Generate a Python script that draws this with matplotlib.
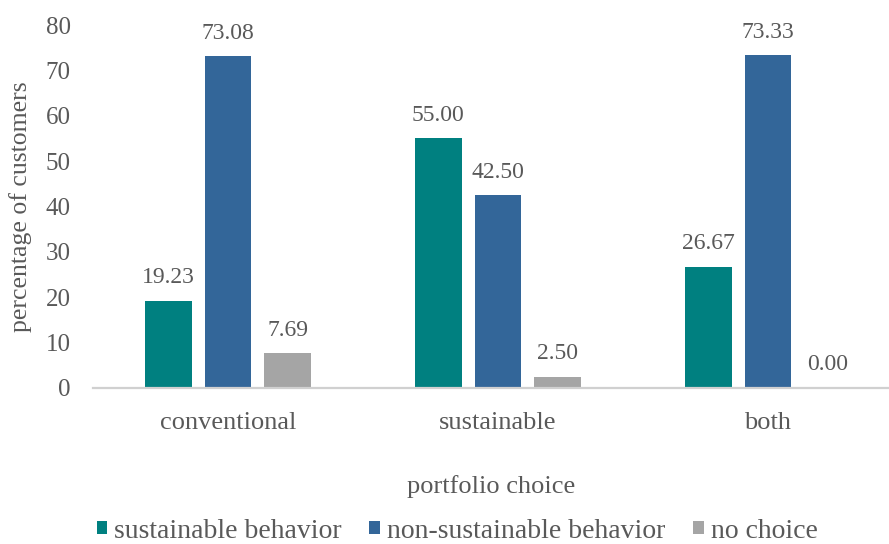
import matplotlib
matplotlib.use("Agg")
import matplotlib.pyplot as plt
import numpy as np

categories = ["conventional", "sustainable", "both"]
series_names = ["sustainable behavior", "non-sustainable behavior", "no choice"]
sustainable = [19.23, 55.00, 26.67]
non_sustainable = [73.08, 42.50, 73.33]
no_choice = [7.69, 2.50, 0.00]
y_ticks = [0, 10, 20, 30, 40, 50, 60, 70, 80]

colors = ["#008080", "#336699", "#A5A5A5"]
text_color = "#595959"

plt.rcParams["font.family"] = ["Liberation Serif", "DejaVu Serif"]

fig = plt.figure(figsize=(8.89, 5.44), dpi=100)
left = 93 / 889
bottom = 1 - 388 / 544
top = 1 - 25 / 544
ax = fig.add_axes([left, bottom, 1 - left, top - bottom])

x = np.arange(len(categories))
width = 0.174
step = 0.222
handles = []
for i, (vals, name, col) in enumerate(zip([sustainable, non_sustainable, no_choice],
                                          series_names, colors)):
    pos = x + (i - 1) * step
    bars = ax.bar(pos, vals, width, color=col, label=name, zorder=2)
    handles.append(bars)
    for xp, v in zip(pos, vals):
        ax.annotate(f"{v:.2f}", (xp, v), xytext=(0, 9), textcoords="offset points",
                    ha="center", va="bottom", fontsize=17, color=text_color)

ax.set_ylim(0, 80)
ax.set_xlim(-0.5, 2.5 - (903 - 889) / 270)
ax.set_yticks(y_ticks)
ax.set_xticks(x)
ax.set_xticklabels(categories, fontsize=19)
ax.tick_params(axis="both", length=0, labelcolor=text_color)
ax.tick_params(axis="y", pad=16, labelsize=18)
ax.tick_params(axis="x", pad=17)
for s in ["top", "right", "left"]:
    ax.spines[s].set_visible(False)
ax.spines["bottom"].set_color("#D0D0D0")
ax.spines["bottom"].set_linewidth(1.6)

ax.set_ylabel("percentage of customers", fontsize=18.5, color=text_color, labelpad=10)
ax.set_xlabel("portfolio choice", fontsize=19, color=text_color, labelpad=30)

fig.legend(handles=handles, labels=series_names, loc="center",
           bbox_to_anchor=(457 / 889, 1 - 531 / 544), ncol=3, frameon=False,
           fontsize=20, labelcolor=text_color, handlelength=0.38, handleheight=0.38,
           handletextpad=0.25, columnspacing=1.0)

fig.savefig("out.png", dpi=100)
